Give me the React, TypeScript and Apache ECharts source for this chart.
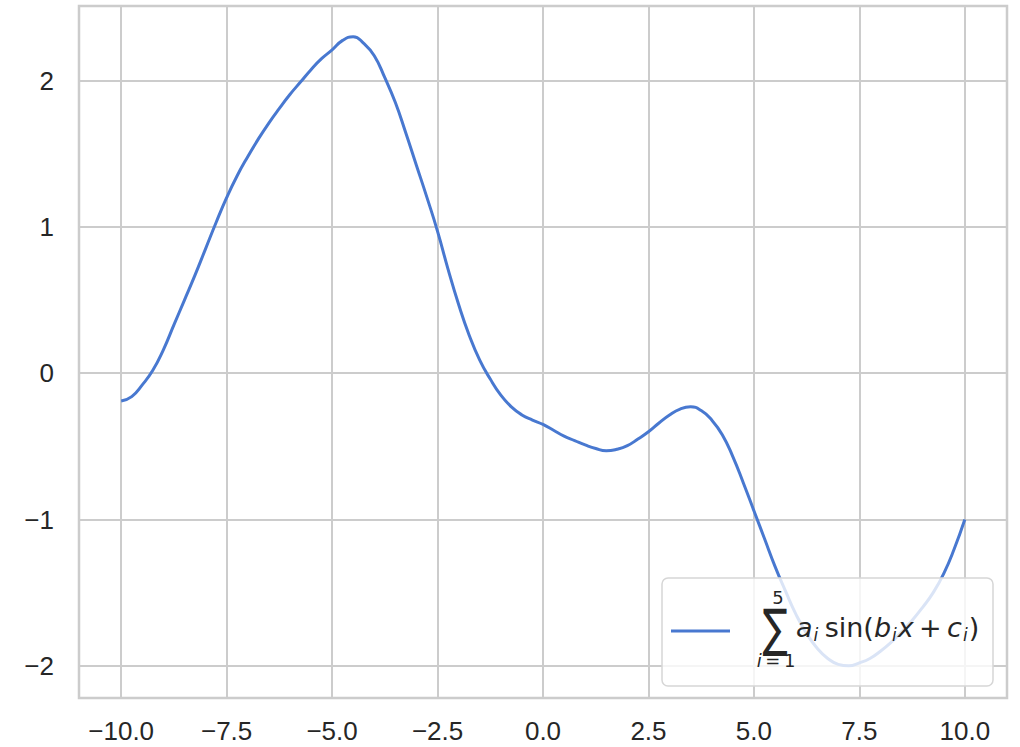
import React, { useEffect, useRef } from "react";
import * as echarts from "echarts";

const xValues = [
  -10, -9.75, -9.5, -9.25, -9, -8.75, -8.5, -8.25, -8, -7.75, -7.5, -7.25, -7, -6.75, -6.5, -6.25, -6, -5.75, -5.5, -5.25,
  -5, -4.75, -4.5, -4.25, -4, -3.75, -3.5, -3.25, -3, -2.75, -2.5, -2.25, -2, -1.75, -1.5, -1.25, -1, -0.75, -0.5, -0.25,
  0, 0.25, 0.5, 0.75, 1, 1.25, 1.5, 1.75, 2, 2.25, 2.5, 2.75, 3, 3.25, 3.5, 3.75, 4, 4.25, 4.5, 4.75,
  5, 5.25, 5.5, 5.75, 6, 6.25, 6.5, 6.75, 7, 7.25, 7.5, 7.75, 8, 8.25, 8.5, 8.75, 9, 9.25, 9.5, 9.75, 10,
];
const yValues = [
  -0.19, -0.16, -0.08, 0.02, 0.16, 0.33, 0.5, 0.67, 0.85, 1.03, 1.2, 1.35, 1.48, 1.6, 1.71, 1.81, 1.905, 1.99, 2.075, 2.15,
  2.21, 2.275, 2.3, 2.255, 2.17, 2.02, 1.85, 1.64, 1.42, 1.2, 0.97, 0.71, 0.47, 0.26, 0.09, -0.04, -0.15, -0.23, -0.285, -0.32,
  -0.35, -0.39, -0.43, -0.46, -0.49, -0.515, -0.53, -0.52, -0.495, -0.45, -0.4, -0.34, -0.285, -0.245, -0.23, -0.255, -0.32, -0.42, -0.57, -0.75,
  -0.94, -1.13, -1.32, -1.49, -1.65, -1.78, -1.88, -1.95, -1.99, -2.0, -1.98, -1.95, -1.9, -1.84, -1.77, -1.69, -1.6, -1.5, -1.37, -1.2, -1.0,
];
const xTicks = [-10, -7.5, -5, -2.5, 0, 2.5, 5, 7.5, 10];
const yTicks = [-2, -1, 0, 1, 2];

const LINE_COLOR = "#4878d0";
const TEXT_COLOR = "#262626";
const GRID_COLOR = "#cccccc";

const minus = (s: string) => s.replace("-", "\u2212");

export default function App() {
  const ref = useRef<HTMLDivElement>(null);
  useEffect(() => {
    if (!ref.current) return;
    const chart = echarts.init(ref.current, undefined, { renderer: "svg" });
    const mathFont = "DejaVu Sans";
    chart.setOption({
      animation: false,
      backgroundColor: "#ffffff",
      grid: {
        left: 79,
        top: 6,
        right: 13,
        bottom: 49,
        show: true,
        borderColor: GRID_COLOR,
        borderWidth: 2.5,
        backgroundColor: "transparent",
      },
      xAxis: {
        type: "value",
        min: -11,
        max: 11,
        axisLine: { show: false },
        axisTick: { show: false, customValues: xTicks },
        axisLabel: {
          customValues: xTicks,
          formatter: (v: number) => minus(v.toFixed(1)),
          color: TEXT_COLOR,
          fontFamily: "Liberation Sans",
          fontSize: 26,
          margin: 20,
        },
        splitLine: { show: true, lineStyle: { color: GRID_COLOR, width: 2 } },
      },
      yAxis: {
        type: "value",
        min: -2.22,
        max: 2.51,
        axisLine: { show: false },
        axisTick: { show: false, customValues: yTicks },
        axisLabel: {
          customValues: yTicks,
          formatter: (v: number) => minus(String(Math.round(v))),
          color: TEXT_COLOR,
          fontFamily: "Liberation Sans",
          fontSize: 26,
          margin: 25,
        },
        splitLine: { show: true, lineStyle: { color: GRID_COLOR, width: 2 } },
      },
      series: [
        {
          type: "line",
          data: xValues.map((x, i) => [x, yValues[i]]),
          showSymbol: false,
          smooth: 0.5,
          lineStyle: { color: LINE_COLOR, width: 3 },
          z: 2,
        },
      ],
      graphic: {
        elements: [
          {
            type: "rect",
            z: 100,
            shape: { x: 662, y: 578, width: 331, height: 108, r: 6 },
            style: { fill: "rgba(255,255,255,0.8)", stroke: "#d6d6d6", lineWidth: 1.5 },
          },
          {
            type: "line",
            z: 101,
            shape: { x1: 671, y1: 631, x2: 730, y2: 631 },
            style: { stroke: LINE_COLOR, lineWidth: 3 },
          },
          {
            type: "text",
            z: 101,
            x: 775,
            y: 628,
            scaleX: 0.72,
            style: {
              text: "\u2211",
              fontFamily: mathFont,
              fontSize: 52,
              fill: TEXT_COLOR,
              align: "center",
              verticalAlign: "middle",
            },
          },
          {
            type: "text",
            z: 101,
            x: 778,
            y: 597,
            style: {
              text: "5",
              fontFamily: mathFont,
              fontSize: 18,
              fill: TEXT_COLOR,
              align: "center",
              verticalAlign: "middle",
            },
          },
          {
            type: "text",
            z: 101,
            x: 776,
            y: 660,
            style: {
              text: "{v|i}{n|\u2009=\u20091}",
              fill: TEXT_COLOR,
              align: "center",
              verticalAlign: "middle",
              rich: {
                v: { fontFamily: mathFont, fontSize: 18, fontStyle: "italic", fill: TEXT_COLOR },
                n: { fontFamily: mathFont, fontSize: 18, fill: TEXT_COLOR },
              },
            },
          },
          {
            type: "text",
            z: 101,
            x: 796,
            y: 627,
            style: {
              text: "{v|a}{s|i}{n|\u2009sin(}{v|b}{s|i}{v|x}{n|\u2009+\u2009}{v|c}{s|i}{n|)}",
              fill: TEXT_COLOR,
              align: "left",
              verticalAlign: "middle",
              rich: {
                v: { fontFamily: mathFont, fontSize: 27, fontStyle: "italic", fill: TEXT_COLOR, lineHeight: 34 },
                n: { fontFamily: mathFont, fontSize: 27, fill: TEXT_COLOR, lineHeight: 34 },
                s: { fontFamily: mathFont, fontSize: 17, fontStyle: "italic", fill: TEXT_COLOR, padding: [16, 1, 0, 1] },
              },
            },
          },
        ],
      },
    });
    return () => chart.dispose();
  }, []);
  return (
    <div
      ref={ref}
      style={{ position: "absolute", left: 0, top: 0, width: 1020, height: 747 }}
    />
  );
}
